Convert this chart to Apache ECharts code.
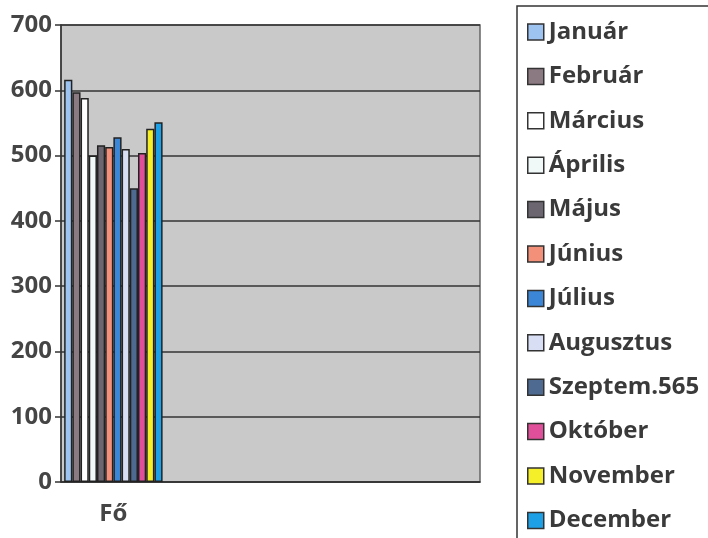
<!DOCTYPE html>
<html>
<head>
<meta charset="utf-8">
<script src="https://cdn.jsdelivr.net/npm/echarts@6/dist/echarts.min.js"></script>
<style>
  html, body { margin: 0; padding: 0; background: #fff; }
  #chart { width: 708px; height: 538px; }
</style>
</head>
<body>
<div id="chart"></div>
<script>
// havi adatok, egy kategória ("Fő")
const categories = ['Fő', '', '', '']
const months = ['Január', 'Február', 'Március', 'Április', 'Május', 'Június',
  'Július', 'Augusztus', 'Szeptem.565', 'Október', 'November', 'December']
const values = [616, 597, 588, 500, 516, 513, 528, 510, 450, 504, 541, 551]
const colors = ['#9dc3f0', '#8c7a82', '#ffffff', '#f0f8f8', '#6b6670', '#f2907a',
  '#3b86d6', '#d8dff5', '#4f6a90', '#e0509a', '#f5ef2a', '#1ea0e6']
const yTicks = [0, 100, 200, 300, 400, 500, 600, 700]

const chartDom = document.getElementById('chart')
const myChart = echarts.init(chartDom)

const labelFont = { fontFamily: 'Open Sans', fontWeight: 'bold', fontSize: 24, color: '#454545' }

const option = {
  animation: false,
  color: colors,
  grid: {
    left: 61, right: 228, top: 25, bottom: 56,
    show: true, backgroundColor: '#c9c9c9', borderColor: '#666', borderWidth: 1.5
  },
  legend: {
    orient: 'vertical',
    left: 527, top: 20,
    padding: 0,
    itemWidth: 16, itemHeight: 16,
    itemGap: 20.4,
    icon: 'rect',
    itemStyle: { borderColor: '#333', borderWidth: 1.5 },
    textStyle: { fontFamily: 'Open Sans', fontWeight: 'bold', fontSize: 24, lineHeight: 24, color: '#3a3a3a' },
    data: months
  },
  graphic: [{
    type: 'rect',
    shape: { x: 517, y: 6, width: 200, height: 545 },
    style: { fill: 'none', stroke: '#333', lineWidth: 1.5 }
  }],
  xAxis: {
    type: 'category',
    data: categories,
    axisLine: { lineStyle: { color: '#333', width: 1.5 } },
    axisTick: { length: 7, lineStyle: { color: '#333', width: 1.5 } },
    axisLabel: Object.assign({ margin: 20 }, labelFont)
  },
  yAxis: {
    type: 'value',
    min: yTicks[0], max: yTicks[yTicks.length - 1], interval: 100,
    axisLine: { show: true, lineStyle: { color: '#333', width: 1.5 } },
    axisTick: { show: true, length: 6, lineStyle: { color: '#333', width: 1.5 } },
    axisLabel: Object.assign({ margin: 9 }, labelFont),
    splitLine: { lineStyle: { color: '#333', width: 1.5 } }
  },
  series: months.map((m, i) => ({
    name: m,
    type: 'bar',
    data: [values[i]],
    barGap: '0%',
    barCategoryGap: '6%',
    itemStyle: { color: colors[i], borderColor: '#222', borderWidth: 1.5 }
  }))
}

option && myChart.setOption(option)
</script>
</body>
</html>
